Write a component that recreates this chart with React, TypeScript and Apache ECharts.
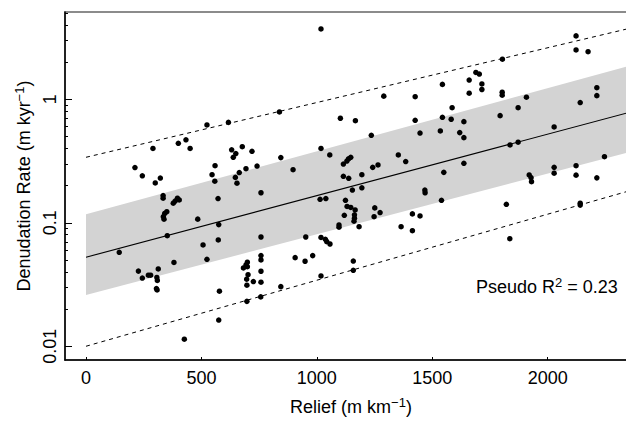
import React, { useEffect, useRef } from "react";
import * as echarts from "echarts";

// Catchment relief (m/km) and denudation rate (m/kyr) for each sample
const relief = [
  1018, 838, 617, 524, 290, 400, 433, 451, 212, 244,
  300, 322, 559, 546, 558, 631, 649, 638, 677, 719,
  693, 741, 664, 647, 654, 758, 844, 897, 1018, 572,
  334, 334, 378, 386, 396, 404, 350, 341, 335, 338,
  352, 484, 575, 507, 573, 144, 524, 381, 758, 758,
  758, 699, 693, 699, 682, 702, 696, 697, 725, 758,
  758, 757, 697, 844, 906, 949, 982, 952, 1018, 1018,
  227, 244, 270, 280, 313, 307, 309, 305, 308, 578,
  575, 426,
  2123, 2123, 2175, 1804, 1689, 1704, 1660, 1715, 1715, 1544,
  1660, 1290, 1426, 1803, 1803, 1908, 2213, 2213, 2141, 1586,
  1872, 1794, 1102, 1167, 1426, 1544, 1582, 1637, 2028, 1447,
  1535, 1619, 1637, 1236, 1056, 1837, 1872, 2246, 1147, 1137,
  1130, 1115, 1353, 1385, 1637, 1265, 1242, 1115, 1138, 1195,
  1550, 2028, 2028, 2123, 2123, 2213, 1920, 1928, 1930, 1154,
  1195, 1468, 1469, 1014, 1039, 1124, 1131, 1147, 1166, 1251,
  1274, 1248, 1540, 1821, 2141, 2141, 1163, 1163, 1161, 1119,
  1096, 1096, 1183, 1414, 1447, 1365, 1414, 1037, 1043, 1057,
  1158, 1158, 1836,
];

const denudationRate = [
  3.71, 0.79, 0.65, 0.62, 0.40, 0.44, 0.47, 0.40, 0.28, 0.24,
  0.21, 0.23, 0.29, 0.245, 0.217, 0.39, 0.363, 0.339, 0.413, 0.379,
  0.274, 0.288, 0.255, 0.233, 0.209, 0.175, 0.337, 0.269, 0.40, 0.157,
  0.166, 0.158, 0.144, 0.150, 0.158, 0.153, 0.123, 0.119, 0.112, 0.107,
  0.0786, 0.107, 0.0966, 0.0661, 0.0726, 0.0577, 0.0506, 0.0477, 0.0767, 0.0542,
  0.050, 0.0479, 0.0455, 0.0441, 0.0431, 0.038, 0.0349, 0.0312, 0.0334, 0.0405,
  0.033, 0.0251, 0.0231, 0.0304, 0.0522, 0.0488, 0.0542, 0.0767, 0.076, 0.0371,
  0.0406, 0.0357, 0.0376, 0.0376, 0.0423, 0.0361, 0.0341, 0.0293, 0.0286, 0.0279,
  0.0163, 0.0114,
  3.26, 2.51, 2.43, 2.11, 1.65, 1.60, 1.43, 1.33, 1.20, 1.32,
  1.12, 1.06, 1.05, 1.14, 1.08, 1.04, 1.24, 1.07, 0.94, 0.855,
  0.855, 0.737, 0.702, 0.671, 0.676, 0.715, 0.689, 0.659, 0.597, 0.533,
  0.554, 0.537, 0.489, 0.511, 0.354, 0.427, 0.449, 0.343, 0.339, 0.329,
  0.316, 0.299, 0.354, 0.313, 0.303, 0.294, 0.281, 0.238, 0.229, 0.245,
  0.256, 0.281, 0.252, 0.29, 0.243, 0.231, 0.244, 0.232, 0.215, 0.184,
  0.192, 0.184, 0.175, 0.155, 0.157, 0.152, 0.1355, 0.133, 0.127, 0.132,
  0.121, 0.112, 0.152, 0.141, 0.144, 0.139, 0.116, 0.109, 0.103, 0.115,
  0.096, 0.092, 0.093, 0.118, 0.1135, 0.093, 0.0863, 0.0735, 0.0703, 0.0673,
  0.049, 0.0412, 0.0743,
];

// Fitted model: endpoints of the trend line, confidence band and prediction bounds
const fitRelief = [0, 2400];
const fitRate = [0.0526, 0.826];
const bandLower = [0.026, 0.394];
const bandUpper = [0.117, 1.97];
const predLower = [0.01, 0.192];
const predUpper = [0.339, 3.93];

// Axis ticks
const xTicks = [0, 500, 1000, 1500, 2000];
const xTickLabels = ["0", "500", "1000", "1500", "2000"];
const yTickValues = [0.01, 0.1, 1];
const yTickLabels = ["0.01", "0.1", "1"];
const yMinorValues = [
  0.02, 0.03, 0.04, 0.05, 0.06, 0.07, 0.08, 0.09,
  0.2, 0.3, 0.4, 0.5, 0.6, 0.7, 0.8, 0.9,
  2, 3, 4, 5,
];

const X_MIN = -91;
const X_MAX = 2387;
const Y_MIN = 0.00774;
const Y_MAX = 5.09;

const FONT = "'Liberation Sans', Arial, Helvetica, sans-serif";
const lg = (v: number) => Math.log10(v);

const richText = {
  a: { fontSize: 18, fontFamily: FONT, color: "#000", lineHeight: 22 },
  s: { fontSize: 13, fontFamily: FONT, color: "#000", lineHeight: 13, verticalAlign: "top" },
};

export default function App() {
  const ref = useRef<HTMLDivElement | null>(null);

  useEffect(() => {
    document.body.style.margin = "0";
    if (!ref.current) return;
    const chart = echarts.init(ref.current, undefined, { renderer: "svg" });

    const points = relief.map((r, i) => [r, lg(denudationRate[i])]);
    const line = (vals: number[]) => fitRelief.map((r, i) => [r, lg(vals[i])]);

    const yMajorLogs = yTickValues.map(lg);
    const yMinorLogs = yMinorValues.map(lg);

    const option: any = {
      animation: false,
      grid: {
        left: 65,
        right: 3,
        top: 12,
        bottom: 61,
        show: true,
        borderColor: "#666",
        borderWidth: 1.5,
        backgroundColor: "transparent",
      },
      xAxis: {
        type: "value",
        min: X_MIN,
        max: X_MAX,
        axisLine: { show: true, onZero: false, lineStyle: { color: "#000", width: 1.5 } },
        axisTick: {
          show: true,
          inside: true,
          length: 3,
          customValues: xTicks,
          lineStyle: { color: "#000", width: 1 },
        },
        axisLabel: {
          customValues: xTicks,
          margin: 9,
          fontSize: 18,
          fontFamily: FONT,
          color: "#000",
          formatter: (v: number) => {
            const i = xTicks.findIndex((t) => Math.abs(t - v) < 1e-6);
            return i >= 0 ? xTickLabels[i] : "";
          },
        },
        splitLine: { show: false },
        name: "{a|Relief (m km}{s|\u22121}{a|)}",
        nameLocation: "middle",
        nameGap: 36,
        nameTextStyle: { rich: richText },
      },
      yAxis: [
        {
          type: "value",
          min: lg(Y_MIN),
          max: lg(Y_MAX),
          position: "left",
          axisLine: { show: true, onZero: false, lineStyle: { color: "#000", width: 1.5 } },
          axisTick: {
            show: true,
            inside: true,
            length: 7,
            customValues: yMajorLogs,
            lineStyle: { color: "#000", width: 1 },
          },
          axisLabel: {
            customValues: yMajorLogs,
            rotate: 90,
            margin: 6,
            fontSize: 18,
            fontFamily: FONT,
            color: "#000",
            formatter: (v: number) => {
              const i = yMajorLogs.findIndex((t) => Math.abs(t - v) < 1e-6);
              return i >= 0 ? yTickLabels[i] : "";
            },
          },
          splitLine: { show: false },
          name: "{a|Denudation Rate (m kyr}{s|\u22121}{a|)}",
          nameLocation: "middle",
          nameRotate: 90,
          nameGap: 28,
          nameTextStyle: { rich: richText },
        },
        {
          type: "value",
          min: lg(Y_MIN),
          max: lg(Y_MAX),
          position: "left",
          axisLine: { show: false, onZero: false },
          axisLabel: { show: false },
          splitLine: { show: false },
          axisTick: {
            show: true,
            inside: true,
            length: 3,
            customValues: yMinorLogs,
            lineStyle: { color: "#000", width: 1 },
          },
        },
      ],
      series: [
        {
          type: "custom",
          name: "band",
          clip: true,
          z: 1,
          data: [[fitRelief[0], lg(fitRate[0])]],
          renderItem: (_params: any, api: any) => {
            const pts = [
              api.coord([fitRelief[0], lg(bandUpper[0])]),
              api.coord([fitRelief[1], lg(bandUpper[1])]),
              api.coord([fitRelief[1], lg(bandLower[1])]),
              api.coord([fitRelief[0], lg(bandLower[0])]),
            ];
            return {
              type: "polygon",
              shape: { points: pts },
              style: { fill: "#d3d3d3", stroke: "none" },
            };
          },
        },
        {
          type: "line",
          name: "fit",
          data: line(fitRate),
          symbol: "none",
          clip: true,
          z: 2,
          lineStyle: { color: "#000", width: 1.1 },
        },
        {
          type: "line",
          name: "upper",
          data: line(predUpper),
          symbol: "none",
          clip: true,
          z: 2,
          lineStyle: { color: "#000", width: 1, type: [4, 4] },
        },
        {
          type: "line",
          name: "lower",
          data: line(predLower),
          symbol: "none",
          clip: true,
          z: 2,
          lineStyle: { color: "#000", width: 1, type: [4, 4] },
        },
        {
          type: "scatter",
          name: "samples",
          data: points,
          symbol: "circle",
          symbolSize: 5.5,
          z: 3,
          itemStyle: { color: "#000", opacity: 1 },
        },
      ],
      graphic: [
        {
          type: "text",
          left: 476,
          top: 276,
          z: 10,
          style: {
            text: "{a|Pseudo R}{s|2}{a| = 0.23}",
            rich: richText,
          },
        },
      ],
    };

    chart.setOption(option);
    return () => chart.dispose();
  }, []);

  return (
    <div style={{ width: 626, height: 421, overflow: "hidden", position: "relative" }}>
      <div ref={ref} style={{ width: 640, height: 421 }} />
    </div>
  );
}
